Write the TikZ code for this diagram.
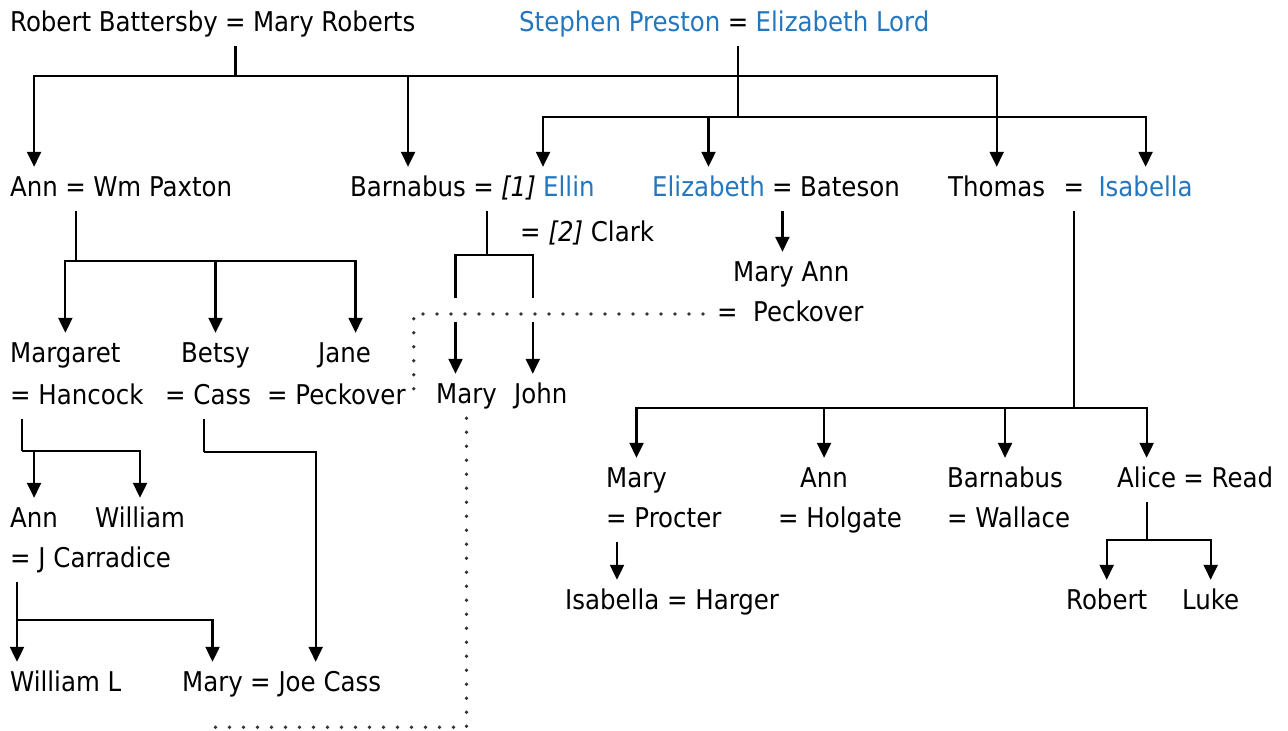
\documentclass[tikz,border=0pt]{standalone}
\usepackage{fontspec}
\setmainfont{DejaVu Sans Condensed}
\usetikzlibrary{arrows.meta, positioning, calc}
\definecolor{prestonblue}{HTML}{2577BD}
\definecolor{dotgray}{HTML}{333333}

\begin{document}
\begin{tikzpicture}[
    x=1pt, y=-1pt,
    node distance=7pt,
    person/.style={inner xsep=0pt, inner ysep=9pt, text height=20pt, text depth=6pt, anchor=base west, font=\fontsize{27.2}{31}\selectfont},
    pres/.style={person, text=prestonblue},
    link/.style={line width=2.2pt},
    arrow/.style={link, -{Triangle[width=14pt,length=15pt]}},
    same/.style={dotgray, line width=3.8pt, line cap=round, dash pattern=on 0pt off 14pt}
]
\useasboundingbox (0,0) rectangle (1288,731);

% Couples at the top
\node[person] (robert) at (10,31) {Robert Battersby};
\node[person, base right=of robert] (rbeq) {=};
\node[person, base right=of rbeq] (maryr) {Mary Roberts};
\node[pres] (stephen) at (519,31) {Stephen Preston};
\node[person, base right=of stephen] (speq) {=};
\node[pres, base right=of speq] (elord) {Elizabeth Lord};

% Their children
\node[person] (ann) at (10,196) {Ann};
\node[person, base right=of ann] (anneq) {=};
\node[person, base right=of anneq] (paxton) {Wm Paxton};
\node[person] (barn) at (350,196) {Barnabus};
\node[person, base right=of barn] (barneq) {=};
\node[person, base right=of barneq, font=\fontsize{27.2}{31}\selectfont\itshape] (first) {[1]};
\node[pres, base right=of first] (ellin) {Ellin};
\node[person] (clark) at (520,241) {= \textit{[2]} Clark};
\node[pres] (eliz) at (652,196) {Elizabeth};
\node[person, base right=of eliz] (elizeq) {=};
\node[person, base right=of elizeq] (bateson) {Bateson};
\node[person] (thomas) at (948,196) {Thomas};
\node[person, base right=18pt of thomas] (thomeq) {=};
\node[pres, base right=14pt of thomeq] (isab) {Isabella};

\node[person] (maryann) at (733,281) {Mary Ann};
\node[person] (peck) at (717,321) {=\ \ Peckover};

% Paxton and Barnabus children
\node[person] (margaret) at (10,362) {Margaret};
\node[person] (hancock) at (10,404) {= Hancock};
\node[person] (betsy) at (181,362) {Betsy};
\node[person] (cass) at (165,404) {= Cass};
\node[person] (jane) at (318,362) {Jane};
\node[person] (jpeck) at (267,404) {= Peckover};
\node[person] (maryb) at (436,403) {Mary};
\node[person] (john) at (514,403) {John};

% Thomas children
\node[person] (maryt) at (606,487) {Mary};
\node[person] (procter) at (606,527) {= Procter};
\node[person] (annt) at (800,487) {Ann};
\node[person] (holgate) at (778,527) {= Holgate};
\node[person] (barnt) at (947,487) {Barnabus};
\node[person] (wallace) at (947,527) {= Wallace};
\node[person] (alice) at (1117,487) {Alice};
\node[person, base right=of alice] (read) {= Read};
\node[person] (isah) at (565,609) {Isabella = Harger};
\node[person] (robt) at (1066,609) {Robert};
\node[person] (luke) at (1182,609) {Luke};

% Hancock and Carradice lines
\node[person] (annh) at (10,527) {Ann};
\node[person] (william) at (95,527) {William};
\node[person] (carradice) at (10,567) {= J Carradice};
\node[person] (williaml) at (10,691) {William L};
\node[person] (maryc) at (182,691) {Mary};
\node[person, base right=of maryc] (joecass) {= Joe Cass};

% Lines of descent
\draw[link] (rbeq.south) -- ++(0,30) coordinate (rbj);
\draw[arrow] (rbj) -| (ann.north);
\draw[arrow] (rbj) -| (barn.north);
\draw[arrow] (rbj) -| (thomas.north);

\draw[link] (speq.south) -- ++(0,71) coordinate (spj);
\draw[arrow] (spj) -| (ellin.north west);
\draw[arrow] (spj) -| (eliz.north);
\draw[arrow] (spj) -| (isab.north);

\draw[link] (anneq.south) -- ++(0,50) coordinate (apj);
\draw[arrow] (apj) -| (margaret.north);
\draw[arrow] (apj) -| (betsy.north);
\draw[arrow] (apj) -| ([xshift=11pt]jane.north);

\draw[link] ([xshift=-14pt]first.south west) -- ++(0,44) coordinate (bcj);
\coordinate (mbtop) at ([xshift=-11pt]maryb.north);
\coordinate (jntop) at ([xshift=-8pt]john.north);
\draw[link] (bcj) -| ($(mbtop)+(0,-76)$);
\draw[link] (bcj) -| ($(jntop)+(0,-76)$);
\draw[arrow] ($(mbtop)+(0,-52)$) -- (mbtop);
\draw[arrow] ($(jntop)+(0,-52)$) -- (jntop);

\draw[arrow] (elizeq.south) -- (elizeq.south |- maryann.north);

\draw[link] (thomeq.south) -- ++(0,197) coordinate (tj);
\draw[arrow] (tj) -| (maryt.north);
\draw[arrow] (tj) -| (annt.north);
\draw[arrow] (tj) -| (barnt.north);
\draw[arrow] (tj) -| (alice.north);

\coordinate (pj) at ([xshift=11pt]procter.south west);
\draw[arrow] (pj) -- (pj |- isah.north);

\draw[link] (alice.south) -- ++(0,38) coordinate (alj);
\draw[arrow] (alj) -| (robt.north);
\draw[arrow] (alj) -| (luke.north);

\draw[link] ([xshift=12pt]hancock.south west) -- ++(0,32) coordinate (hj);
\draw[arrow] (hj) -| (annh.north);
\draw[arrow] (hj) -| (william.north);

\draw[link] ([xshift=-4pt]cass.south) -- ++(0,33) coordinate (csj);
\draw[arrow] (csj) -| (joecass.north);

\draw[link] ([xshift=7pt]carradice.south west) -- ++(0,38) coordinate (cj);
\draw[arrow] (cj) -- (cj |- williaml.north);
\draw[arrow] (cj) -| (maryc.north);

% Same persons
\draw[same] ([xshift=-14pt]peck.west) -| ([xshift=8pt]jpeck.east);
\draw[same] (maryb.south) |- ($(maryc.south)+(0,21)$);

\end{tikzpicture}
\end{document}
